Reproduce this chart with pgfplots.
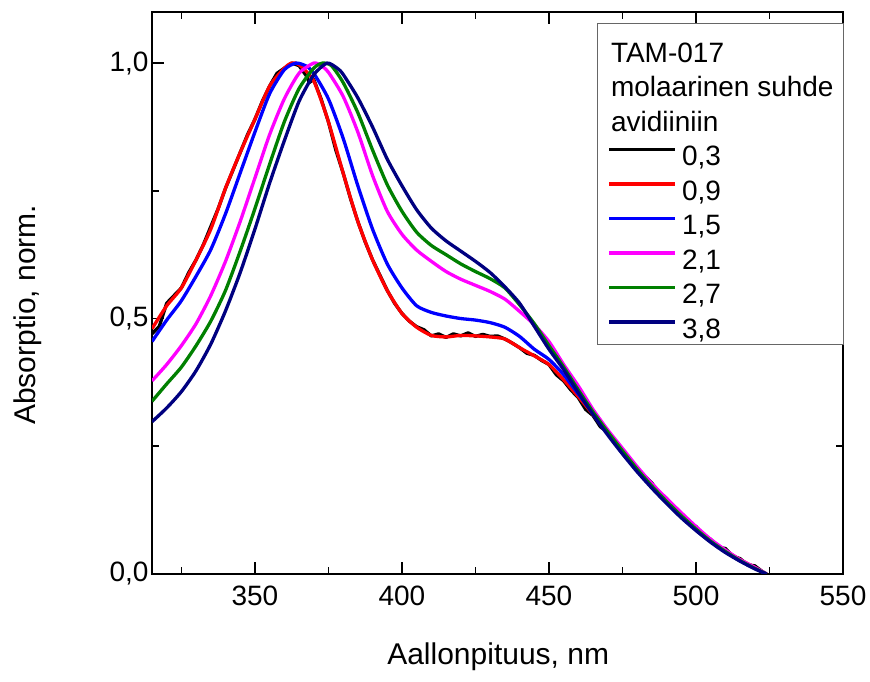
\documentclass[border=0pt]{standalone}
\usepackage{pgfplots}
\pgfplotsset{compat=1.18}
\usepackage{fontspec}
\setmainfont{Liberation Sans}
\definecolor{cnavy}{RGB}{0,0,128}
\definecolor{cgreen}{RGB}{0,128,0}
\definecolor{cmag}{RGB}{255,0,255}
\definecolor{cblue}{RGB}{0,0,255}
\definecolor{cred}{RGB}{255,0,0}
\begin{document}
\begin{tikzpicture}
\path[use as bounding box] (0,0) rectangle (870bp,682bp);
\begin{axis}[
  at={(152bp,108bp)}, anchor=south west,
  scale only axis, width=691bp, height=562bp,
  xmin=315, xmax=550, ymin=0, ymax=1.1,
  xtick={350,400,450,500,550},
  minor xtick={325,375,425,475,525},
  ytick={0,0.5,1},
  minor ytick={0.25,0.75},
  tick align=inside,
  major tick length=12bp, minor tick length=7bp,
  every tick/.style={black, line width=1.8bp},
  axis line style={line width=2bp},
  /pgf/number format/assume math mode=true,
  tick label style={font=\fontsize{28bp}{34bp}\selectfont},
  y tick label style={/pgf/number format/fixed, /pgf/number format/fixed zerofill, /pgf/number format/precision=1, /pgf/number format/use comma},
  x tick label style={yshift=-8bp},
  xlabel={Aallonpituus, nm},
  ylabel={Absorptio, norm.},
  label style={font=\fontsize{30bp}{36bp}\selectfont},
  xlabel style={at={(axis description cs:0.501,-0.148)}, anchor=center},
  ylabel style={at={(axis description cs:-0.180,0.461)}, anchor=center},
  legend cell align=left,
  legend image code/.code={\draw[#1, line width=3.5bp] (0bp,0bp) -- (66bp,0bp);},
  legend style={at={(0.644,0.98)}, anchor=north west, draw=black!60, line width=1bp,
    inner xsep=10bp, inner ysep=2bp, column sep=5bp, row sep=-5.9bp,
    font=\fontsize{28bp}{34bp}\selectfont,
    nodes={inner sep=0pt, text height=36.4bp, text depth=4bp}},
  every axis plot/.append style={line width=3.3bp, line join=round},
]
\addlegendimage{empty legend}\addlegendentry{\hspace{-71bp}TAM-017}
\addlegendimage{empty legend}\addlegendentry{\hspace{-71bp}molaarinen suhde}
\addlegendimage{empty legend}\addlegendentry{\hspace{-71bp}avidiiniin}
% 0,3
\addplot[black] coordinates {
(315,0.47)(317.5,0.485)(320,0.53)(322.5,0.545)(325,0.56)(327.5,0.59)(330,0.615)(332.5,0.645)(335,0.68)(337.5,0.715)(340,0.755)(342.5,0.79)(345,0.825)(347.5,0.86)(350,0.89)(352.5,0.925)(355,0.955)(357.5,0.98)(360,0.99)(362.5,1.0)(365,0.995)(367.5,0.975)(368.5,0.962)(370,0.968)(372.5,0.93)(375,0.885)(377.5,0.83)(380,0.785)(382.5,0.735)(385,0.69)(387.5,0.65)(390,0.615)(392.5,0.585)(395,0.555)(397.5,0.53)(400,0.51)(402.5,0.495)(405,0.484)(407.5,0.478)(410,0.466)(412.5,0.47)(415,0.463)(417.5,0.47)(420,0.466)(422.5,0.472)(425,0.465)(427.5,0.469)(430,0.465)(432.5,0.466)(435,0.46)(437.5,0.452)(440,0.443)(442.5,0.432)(445,0.428)(447.5,0.418)(450,0.41)(452.5,0.39)(455,0.378)(457.5,0.36)(460,0.345)(462.5,0.322)(465,0.31)(467.5,0.288)(470,0.278)(472.5,0.256)(475,0.242)(477.5,0.222)(480,0.207)(482.5,0.192)(485,0.178)(487.5,0.158)(490,0.148)(492.5,0.13)(495,0.118)(497.5,0.1)(500,0.093)(502.5,0.075)(505,0.068)(507.5,0.052)(510,0.05)(512.5,0.035)(515,0.03)(517.5,0.018)(520,0.016)(522.5,0.005)(524,0)
};
\addlegendentry{0,3}
% 0,9
\addplot[cred, smooth, tension=0.4] coordinates {
(315,0.48)(320,0.525)(325,0.56)(330,0.615)(335,0.675)(340,0.755)(345,0.825)(350,0.89)(355,0.955)(360,0.99)(362.5,1.0)(365,0.997)(370,0.965)(375,0.885)(380,0.785)(385,0.69)(390,0.615)(395,0.555)(400,0.51)(405,0.483)(410,0.467)(415,0.464)(420,0.467)(425,0.466)(430,0.464)(435,0.46)(440,0.443)(445,0.427)(450,0.41)(455,0.38)(460,0.347)(465,0.312)(470,0.276)(475,0.24)(480,0.205)(485,0.173)(490,0.145)(495,0.116)(500,0.09)(505,0.066)(510,0.046)(515,0.028)(520,0.013)(524,0)
};
\addlegendentry{0,9}
% 1,5
\addplot[cblue, smooth, tension=0.4] coordinates {
(315,0.455)(320,0.497)(325,0.535)(330,0.583)(335,0.635)(340,0.705)(345,0.785)(350,0.865)(355,0.94)(360,0.987)(364,1.0)(367.5,0.994)(370,0.98)(375,0.93)(380,0.853)(385,0.76)(390,0.675)(395,0.607)(400,0.56)(405,0.525)(410,0.512)(415,0.505)(420,0.5)(425,0.497)(430,0.492)(435,0.483)(440,0.465)(445,0.44)(450,0.42)(455,0.39)(460,0.352)(465,0.314)(470,0.277)(475,0.24)(480,0.205)(485,0.172)(490,0.143)(495,0.115)(500,0.089)(505,0.065)(510,0.045)(515,0.027)(520,0.012)(524,0)
};
\addlegendentry{1,5}
% 2,1
\addplot[cmag, smooth, tension=0.4] coordinates {
(315,0.378)(320,0.41)(325,0.447)(330,0.49)(335,0.545)(340,0.612)(345,0.69)(350,0.775)(355,0.86)(360,0.93)(365,0.98)(370,1.0)(372.5,0.995)(375,0.982)(380,0.935)(385,0.865)(390,0.78)(395,0.71)(400,0.665)(405,0.634)(410,0.612)(415,0.592)(420,0.577)(425,0.565)(430,0.553)(435,0.538)(440,0.514)(445,0.488)(450,0.455)(455,0.41)(460,0.368)(465,0.322)(470,0.282)(475,0.246)(480,0.21)(485,0.177)(490,0.148)(495,0.12)(500,0.093)(505,0.068)(510,0.047)(515,0.028)(520,0.013)(524,0)
};
\addlegendentry{2,1}
% 2,7
\addplot[cgreen, smooth, tension=0.4] coordinates {
(315,0.338)(320,0.372)(325,0.405)(330,0.447)(335,0.495)(340,0.555)(345,0.632)(350,0.715)(355,0.802)(360,0.885)(365,0.95)(370,0.99)(373,1.0)(376,0.995)(380,0.962)(385,0.903)(390,0.83)(395,0.762)(400,0.71)(405,0.669)(410,0.643)(415,0.625)(420,0.607)(425,0.592)(430,0.578)(435,0.56)(440,0.527)(445,0.49)(450,0.447)(455,0.405)(460,0.36)(465,0.317)(470,0.278)(475,0.241)(480,0.205)(485,0.172)(490,0.142)(495,0.114)(500,0.088)(505,0.064)(510,0.044)(515,0.026)(520,0.011)(524,0)
};
\addlegendentry{2,7}
% 3,8
\addplot[cnavy, smooth, tension=0.4] coordinates {
(315,0.298)(320,0.325)(325,0.357)(330,0.398)(335,0.45)(340,0.515)(345,0.59)(350,0.675)(355,0.765)(360,0.848)(365,0.925)(370,0.977)(374.5,1.0)(378,0.99)(380,0.978)(385,0.932)(390,0.875)(395,0.812)(400,0.76)(405,0.713)(410,0.677)(415,0.652)(420,0.632)(425,0.612)(430,0.59)(435,0.562)(440,0.53)(445,0.485)(450,0.44)(455,0.4)(460,0.355)(465,0.312)(470,0.272)(475,0.235)(480,0.2)(485,0.168)(490,0.138)(495,0.11)(500,0.085)(505,0.062)(510,0.042)(515,0.025)(520,0.01)(524,0)
};
\addlegendentry{3,8}
\end{axis}
\end{tikzpicture}
\end{document}
